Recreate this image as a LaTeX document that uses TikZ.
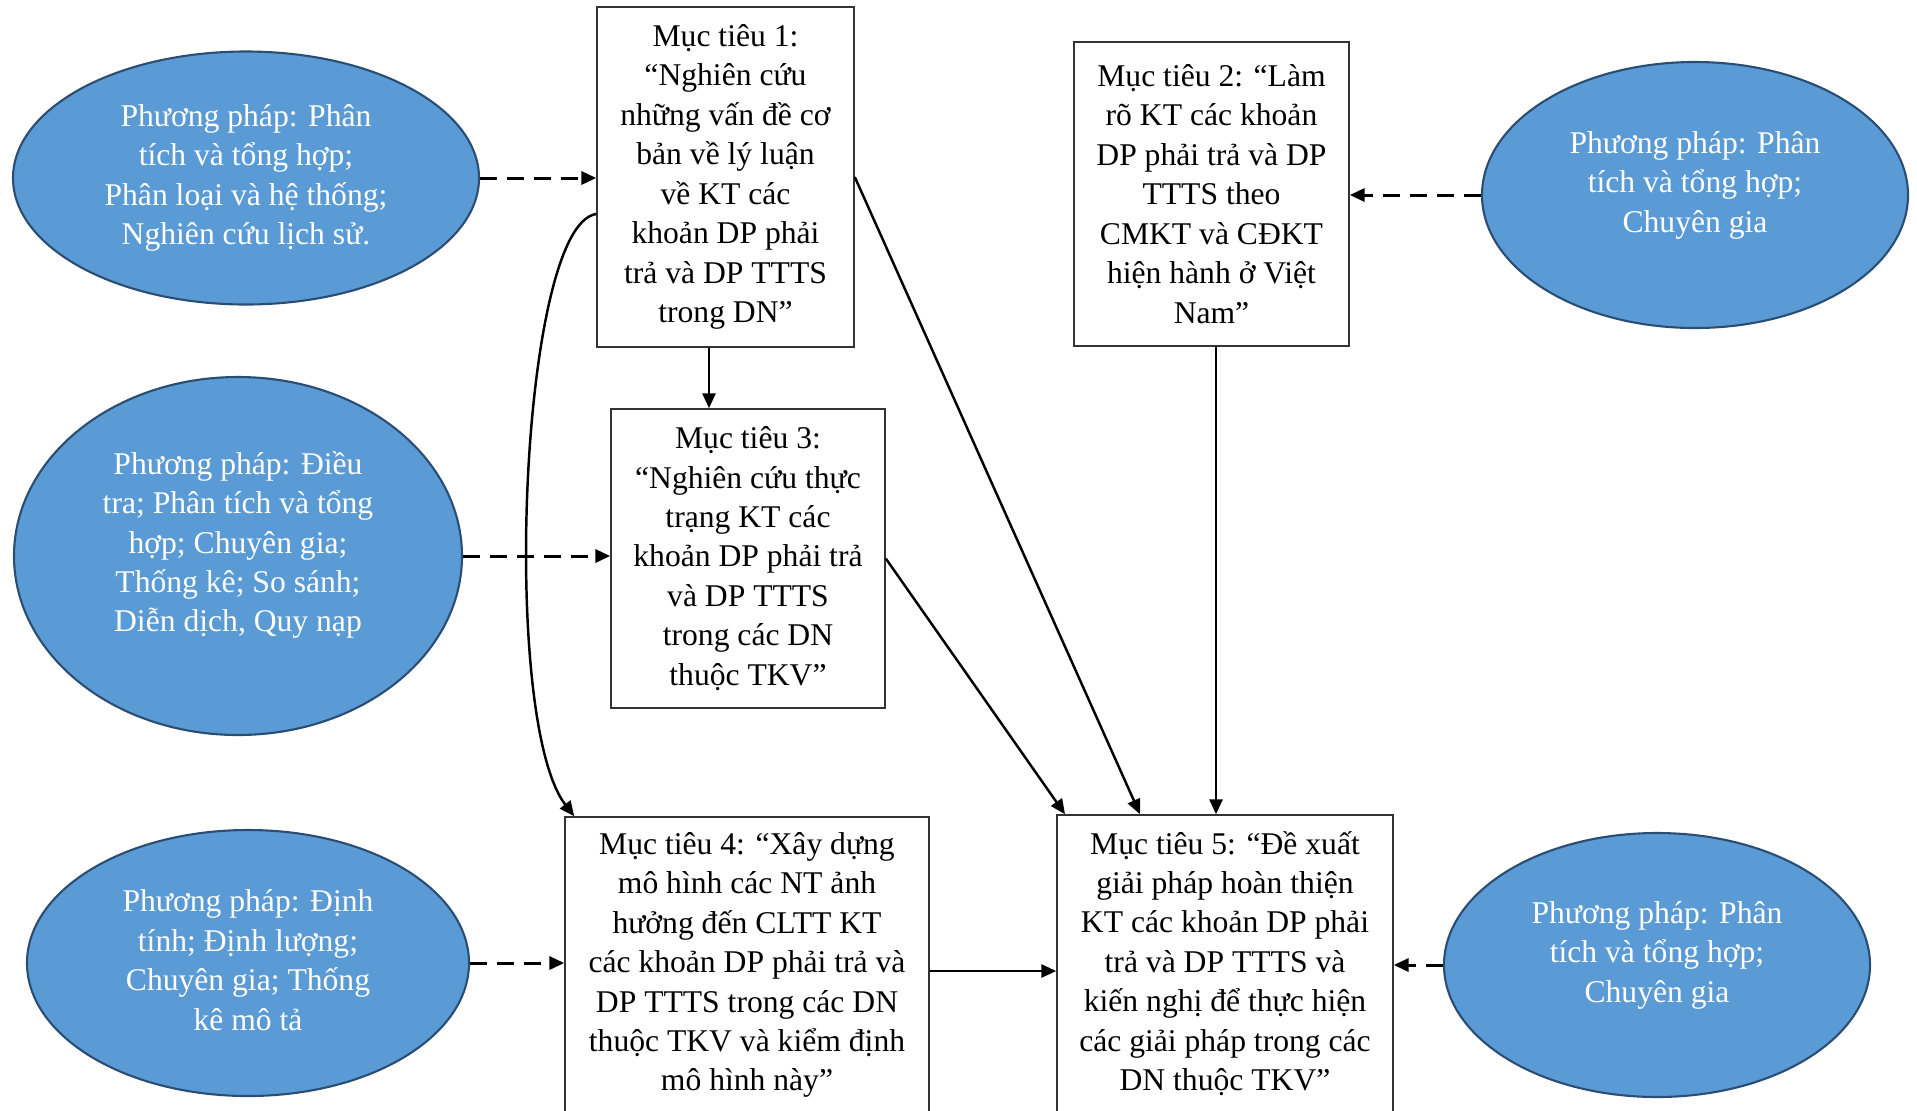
\documentclass[tikz,border=0pt]{standalone}
\usepackage{fontspec}
\setmainfont{Liberation Serif}
\usetikzlibrary{arrows.meta,shapes.geometric}
\definecolor{methodfill}{HTML}{5B9BD5}
\definecolor{methodline}{HTML}{2A4D74}
\definecolor{boxline}{HTML}{333333}
\newcommand\upx{0.02cm}
\begin{document}
\begin{tikzpicture}[x=0.02cm,y=-0.02cm,
  txt/.style={font=\fontsize{18pt}{22.45pt}\selectfont,align=center,inner sep=0pt},
  goal/.style={txt,draw=boxline,line width=0.9pt,fill=white},
  method/.style={ellipse,draw=methodline,line width=1.2pt,fill=methodfill,inner sep=0pt},
  methodtext/.style={txt,text=white},
  link/.style={line width=1.4pt,-{Triangle[length=8.5pt,width=7.5pt]}},
  dlink/.style={line width=1.7pt,dash pattern=on 9.6pt off 5.8pt,-{Triangle[length=8.5pt,width=7.5pt]}}]
\clip (0,0) rectangle (1917,1110);
\useasboundingbox (0,0) rectangle (1917,1110);

% objectives
\node[goal,minimum width=257*\upx,minimum height=340*\upx] (g1) at (725.5,177)
  {Mục tiêu 1:\\“Nghiên cứu\\những vấn đề cơ\\bản về lý luận\\về KT các\\khoản DP phải\\trả và DP TTTS\\trong DN”};
\node[goal,minimum width=275*\upx,minimum height=304*\upx] (g2) at (1211.5,194)
  {Mục tiêu 2: “Làm\\rõ KT các khoản\\DP phải trả và DP\\TTTS theo\\CMKT và CĐKT\\hiện hành ở Việt\\Nam”};
\node[goal,minimum width=274*\upx,minimum height=299*\upx] (g3) at (748,558.5)
  {Mục tiêu 3:\\“Nghiên cứu thực\\trạng KT các\\khoản DP phải trả\\và DP TTTS\\trong các DN\\thuộc TKV”};
\node[goal,minimum width=364*\upx,minimum height=296*\upx] (g4) at (747,965)
  {Mục tiêu 4: “Xây dựng\\mô hình các NT ảnh\\hưởng đến CLTT KT\\các khoản DP phải trả và\\DP TTTS trong các DN\\thuộc TKV và kiểm định\\mô hình này”};
\node[goal,minimum width=336*\upx,minimum height=297*\upx] (g5) at (1225,963.5)
  {Mục tiêu 5: “Đề xuất\\giải pháp hoàn thiện\\KT các khoản DP phải\\trả và DP TTTS và\\kiến nghị để thực hiện\\các giải pháp trong các\\DN thuộc TKV”};

% research methods
\node[method,minimum width=466*\upx,minimum height=253*\upx] (m1) at (246,178) {};
\node[methodtext] (m1t) at (246,178) {Phương pháp: Phân\\tích và tổng hợp;\\Phân loại và hệ thống;\\Nghiên cứu lịch sử.};
\node[method,minimum width=448*\upx,minimum height=358*\upx] (m2) at (238,556) {};
\node[methodtext] (m2t) at (238,545) {Phương pháp: Điều\\tra; Phân tích và tổng\\hợp; Chuyên gia;\\Thống kê; So sánh;\\Diễn dịch, Quy nạp};
\node[method,minimum width=442*\upx,minimum height=266*\upx] (m3) at (248,963) {};
\node[methodtext] (m3t) at (248,960) {Phương pháp: Định\\tính; Định lượng;\\Chuyên gia; Thống\\kê mô tả};
\node[method,minimum width=426*\upx,minimum height=266*\upx] (m4) at (1695,195) {};
\node[methodtext] (m4t) at (1695,185) {Phương pháp: Phân\\tích và tổng hợp;\\Chuyên gia};
\node[method,minimum width=426*\upx,minimum height=264*\upx] (m5) at (1657,965) {};
\node[methodtext] (m5t) at (1657,955) {Phương pháp: Phân\\tích và tổng hợp;\\Chuyên gia};

% methods feeding objectives
\draw[dlink] (m1.east) -- (m1.east -| g1.west);
\draw[dlink] (m2.east) -- (m2.east -| g3.west);
\draw[dlink] (m3.east) -- (m3.east -| g4.west);
\draw[dlink] (m4.west) -- (m4.west -| g2.east);
\draw[dlink] (m5.west) -- (m5.west -| g5.east);

% links between objectives
\draw[link] ([xshift=-16.5*\upx]g1.south) -- ([xshift=-16.5*\upx]g1.south |- g3.north);
\draw[link] (g1.east) -- ([xshift=-85*\upx]g5.north);
\draw[link] (g3.east) -- ([xshift=-160*\upx]g5.north);
\draw[link] ([xshift=4.5*\upx]g2.south) -- ([xshift=4.5*\upx]g2.south |- g5.north);
\draw[link] ([yshift=-6*\upx]g4.east) -- ([yshift=-6*\upx]g4.east -| g5.west);
\draw[link] ([yshift=-37*\upx]g1.west) .. controls (520,225) and (500,720) .. ([xshift=10*\upx]g4.north west);
\end{tikzpicture}
\end{document}
